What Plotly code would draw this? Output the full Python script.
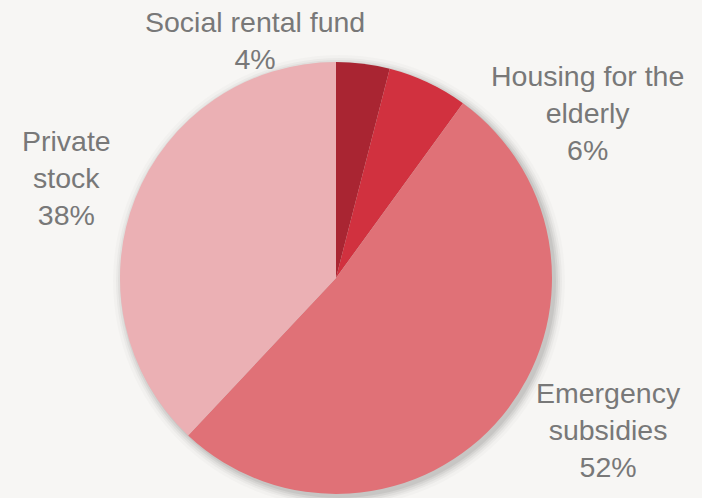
import plotly.graph_objects as go

# Share of housing support by channel (%)
categories = ["Social rental fund", "Housing for the elderly", "Emergency subsidies", "Private stock"]
label_text = ["Social rental fund", "Housing for the<br>elderly", "Emergency<br>subsidies", "Private<br>stock"]
shares = [4, 6, 52, 38]
colors = ["#A92532", "#D1313F", "#E07177", "#EBB0B4"]

W, H = 702, 498
cx, cy, r = 336, 278, 216

fig = go.Figure()

fig.add_trace(go.Pie(
    labels=categories,
    values=shares,
    sort=False,
    direction="clockwise",
    rotation=0,
    marker=dict(colors=colors, line=dict(width=0)),
    textinfo="none",
    hoverinfo="label+percent",
    showlegend=False,
    domain=dict(x=[(cx - r) / W, (cx + r) / W], y=[1 - (cy + r) / H, 1 - (cy - r) / H]),
))

# soft drop shadow behind the pie
for grow, alpha in [(10, 0.02), (7, 0.03), (5, 0.04), (3, 0.05), (1, 0.06)]:
    ox, oy = 3, 3
    fig.add_shape(
        type="circle", xref="paper", yref="paper", layer="below",
        x0=(cx - r - grow + ox) / W, x1=(cx + r + grow + ox) / W,
        y0=1 - (cy + r + grow + oy) / H, y1=1 - (cy - r - grow + oy) / H,
        fillcolor=f"rgba(0,0,0,{alpha})", line=dict(width=0),
    )

# outside labels
label_pos = [(255, 40), (587, 113), (608, 430), (66, 178)]
for txt, val, (lx, ly) in zip(label_text, shares, label_pos):
    fig.add_annotation(
        x=lx / W, y=1 - ly / H, xref="paper", yref="paper",
        text=f"{txt}<br>{val}%", showarrow=False,
        xanchor="center", yanchor="middle", align="center",
        font=dict(family="Liberation Sans, Arial, sans-serif", size=28.5, color="#787878"),
    )

fig.update_layout(
    width=W, height=H,
    margin=dict(l=0, r=0, t=0, b=0),
    paper_bgcolor="#F7F6F4",
    plot_bgcolor="#F7F6F4",
)

fig.write_html("out.html")
